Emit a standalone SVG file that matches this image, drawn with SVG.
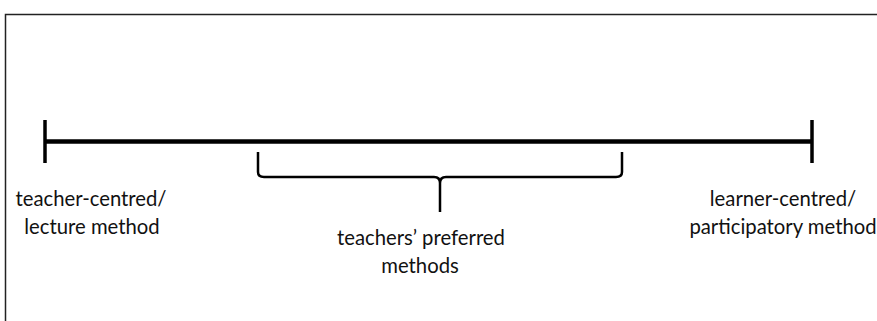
<svg xmlns="http://www.w3.org/2000/svg" width="877" height="321" viewBox="0 0 877 321">
<style>
.t{font-family:Lato,"Open Sans","Liberation Sans",sans-serif;font-size:20.3px;fill:#111;text-anchor:middle}
.frame{stroke:#222;stroke-width:1.5;fill:none}
.axis{stroke:#000;stroke-width:4.5;fill:none}
.tick{stroke:#000;stroke-width:3.5;fill:none}
.brace{stroke:#000;stroke-width:2.5;fill:none;stroke-linejoin:round}
</style>
<rect width="877" height="321" fill="#fff"/>
<path class="frame" d="M5.5,321 V14.5 H877"/>
<g id="connectors">
<line class="axis" x1="45" y1="141.5" x2="812" y2="141.5"/>
<line class="tick" x1="45" y1="120" x2="45" y2="163"/>
<line class="tick" x1="812" y1="120" x2="812" y2="163"/>
<path class="brace" d="M258,152 V172 Q258,177 264,177 H434 Q440,177 440,183 V212 M440,183 Q440,177 446,177 H616 Q622,177 622,172 V152"/>
</g>
<g id="teacher-centred">
<text class="t" x="91" y="206">teacher-centred/</text>
<text class="t" x="92" y="234">lecture method</text>
</g>
<g id="preferred">
<text class="t" x="421" y="245">teachers’ preferred</text>
<text class="t" x="420" y="273">methods</text>
</g>
<g id="learner-centred">
<text class="t" x="783" y="206">learner-centred/</text>
<text class="t" x="783" y="234">participatory method</text>
</g>
</svg>
